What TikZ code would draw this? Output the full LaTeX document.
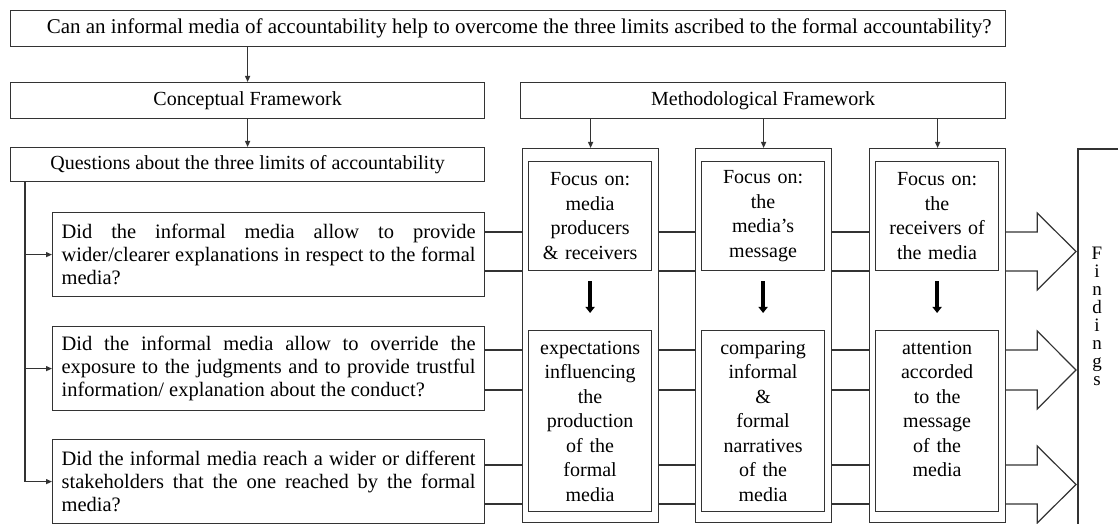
\documentclass[tikz,border=0pt]{standalone}
\usepackage{fontspec}
\setmainfont{Liberation Serif}
\usetikzlibrary{calc,arrows.meta}
\begin{document}
\begin{tikzpicture}[x=1bp,y=-1bp,
  ln/.style={draw=black!80, line width=1.2bp},
  box/.style={ln, anchor=north west, inner sep=0pt, font=\fontsize{20bp}{23bp}\selectfont},
  qbox/.style={box, align=justify, text width=414bp, inner xsep=9bp, minimum height=84bp, font=\fontsize{20.5bp}{23bp}\selectfont},
  colbox/.style={box, minimum width=136bp, minimum height=374bp},
  ibox/.style={box, align=center, text width=117bp, inner xsep=3bp, font=\fontsize{20bp}{24.5bp}\selectfont},
  arr/.style={ln, -{Triangle[width=5bp,length=6bp]}},
  thick arr/.style={draw=black, line width=3.5bp, -{Triangle[width=9bp,length=6bp]}},
  bigarr/.style={ln, line join=miter}
]
\useasboundingbox (0,0) rectangle (1118,524);

% top row
\node[box, minimum width=995bp, minimum height=36bp, font=\fontsize{21bp}{23bp}\selectfont] (top) at (10,10)
  {\hspace*{22bp}Can an informal media of accountability help to overcome the three limits ascribed to the formal accountability?};
\node[box, minimum width=474bp, minimum height=36bp] (cf) at (10,82) {Conceptual Framework};
\node[box, minimum width=485bp, minimum height=36bp] (mf) at (520,82) {Methodological Framework};
\node[box, minimum width=474bp, minimum height=34bp] (qs) at (10,147) {Questions about the three limits of accountability};

% questions
\node[qbox] (q1) at (52,212) {Did the informal media allow to provide\linebreak wider/clearer explanations in respect to the formal\linebreak media?};
\node[qbox] (q2) at (52,326) {Did the informal media allow to override the\linebreak exposure to the judgments and to provide trustful\linebreak information/ explanation about the conduct?};
\node[qbox] (q3) at (52,439) {Did the informal media reach a wider or different\linebreak stakeholders that the one reached by the formal\linebreak media?};

% columns
\node[colbox] (c1) at (522,148) {};
\node[colbox] (c2) at (695,148) {};
\node[colbox] (c3) at (869,148) {};

\node[ibox, minimum height=109bp] (c1t) at (528,161) {Focus on:\\media\\producers\\\& receivers};
\node[ibox, minimum height=109bp] (c2t) at (701,161) {Focus on:\\the\\media’s\\message};
\node[ibox, minimum height=109bp] (c3t) at (875,161) {Focus on:\\the\\receivers of\\the media};

\node[ibox, minimum height=181bp] (c1b) at (528,330) {expectations\\influencing\\the\\production\\of the\\formal\\media};
\node[ibox, minimum height=181bp] (c2b) at (701,330) {comparing\\informal\\\&\\formal\\narratives\\of the\\media};
\node[ibox, minimum height=181bp] (c3b) at (875,330) {attention\\accorded\\to the\\message\\of the\\media\\\mbox{}};

% findings
\node[anchor=north west, inner sep=0pt, minimum width=40bp, minimum height=375bp] (fb) at (1078,149) {};
\draw[ln] (fb.north east) -- (fb.north west) -- (fb.south west);
\node[inner sep=0pt, align=center, font=\fontsize{19bp}{18bp}\selectfont] (ft) at (1097,316) {F\\i\\n\\d\\i\\n\\g\\s};

% vertical arrows
\draw[arr] (cf.north |- top.south) -- (cf.north);
\draw[arr] (cf.south) -- (qs.north);
\foreach \c in {c1,c2,c3} {
  \draw[arr] (\c.north |- mf.south) -- (\c.north);
}
\draw[thick arr] ($(c1t.south)+(0,10)$) -- ($(c1b.north)+(0,-17)$);
\draw[thick arr] ($(c2t.south)+(0,10)$) -- ($(c2b.north)+(0,-17)$);
\draw[thick arr] ($(c3t.south)+(0,10)$) -- ($(c3b.north)+(0,-17)$);

% left bracket
\coordinate (v) at ($(qs.south west)+(15,0)$);
\draw[arr] (v) |- (q3.west);
\draw[arr] (v |- q1.west) -- (q1.west);
\draw[arr] (v |- q2.west) -- (q2.west);

% horizontal connectors and big arrows
\foreach \q/\ta/\tb in {q1/20/59, q2/24/64, q3/26/65} {
  \coordinate (a) at ($(\q.north east)+(0,\ta)$);
  \coordinate (b) at ($(\q.north east)+(0,\tb)$);
  \foreach \p in {a,b} {
    \draw[ln] (\p) -- (\p -| c1.west);
    \draw[ln] (\p -| c1.east) -- (\p -| c2.west);
    \draw[ln] (\p -| c2.east) -- (\p -| c3.west);
  }
  \coordinate (tip) at ($($(a -| fb.west)!0.5!(b -| fb.west)$)+(-2,0)$);
  \draw[bigarr] (a -| c3.east) -- ($(a -| c3.east)+(31,0)$) -- ($(a -| c3.east)+(31,-19)$) -- (tip)
     -- ($(b -| c3.east)+(31,19)$) -- ($(b -| c3.east)+(31,0)$) -- (b -| c3.east);
}
\end{tikzpicture}
\end{document}
